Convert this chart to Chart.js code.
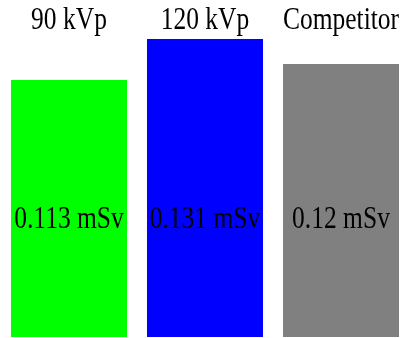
<!DOCTYPE html>
<html>
<head>
<meta charset="utf-8">
<script src="https://cdn.jsdelivr.net/npm/chart.js@4/dist/chart.umd.min.js"></script>
<style>
  html, body { margin: 0; padding: 0; background: #fff; overflow: hidden; }
  /* khung vẽ rộng hơn cửa sổ một chút, cột cuối bị cắt ở mép phải */
  #wrap { width: 410px; height: 338px; }
</style>
</head>
<body>
<div id="wrap"><canvas id="doseChart"></canvas></div>
<script>
// --- dữ liệu biểu đồ ---
const categories = ['90 kVp', '120 kVp', 'Competitor'];
const doseValues = [0.113, 0.131, 0.12];
const valueLabels = ['0.113 mSv', '0.131 mSv', '0.12 mSv'];
const barColors = ['#00ff00', '#0000ff', '#808080'];

const serif = '"Liberation Serif", "Times New Roman", serif';
const TEXT_STRETCH = 1.22; // chữ hơi kéo dãn theo chiều dọc

function drawTallText(ctx, text, x, baseline) {
    ctx.save();
    ctx.translate(x, baseline);
    ctx.scale(1, TEXT_STRETCH);
    ctx.fillText(text, 0, 0);
    ctx.restore();
}

// tên cột ở trên cùng + giá trị ghi trong cột (cùng một độ cao cho cả ba)
const textPlugin = {
    id: 'barText',
    afterDatasetsDraw(chart) {
        const ctx = chart.ctx;
        const area = chart.chartArea;
        const xScale = chart.scales.x;
        const meta = chart.getDatasetMeta(0);
        ctx.save();
        ctx.font = '25.5px ' + serif;
        ctx.fillStyle = '#000';
        ctx.textAlign = 'center';
        ctx.textBaseline = 'alphabetic';
        categories.forEach((name, i) => {
            drawTallText(ctx, name, xScale.getPixelForValue(i), area.top - 10);
        });
        meta.data.forEach((bar, i) => {
            drawTallText(ctx, valueLabels[i], bar.x, area.bottom - 109);
        });
        ctx.restore();
    }
};

new Chart(document.getElementById('doseChart'), {
    type: 'bar',
    data: {
        labels: categories,
        datasets: [{
            data: doseValues,
            backgroundColor: barColors,
            borderWidth: 0,
            barPercentage: 0.853,
            categoryPercentage: 1
        }]
    },
    options: {
        responsive: true,
        maintainAspectRatio: false,
        animation: false,
        layout: { padding: { left: 1, right: 1, top: 39, bottom: 1 } },
        plugins: {
            legend: { display: false },
            tooltip: { enabled: false }
        },
        scales: {
            x: { display: false },
            y: {
                display: false,
                min: 0,
                max: 0.131
            }
        }
    },
    plugins: [textPlugin]
});
</script>
</body>
</html>
